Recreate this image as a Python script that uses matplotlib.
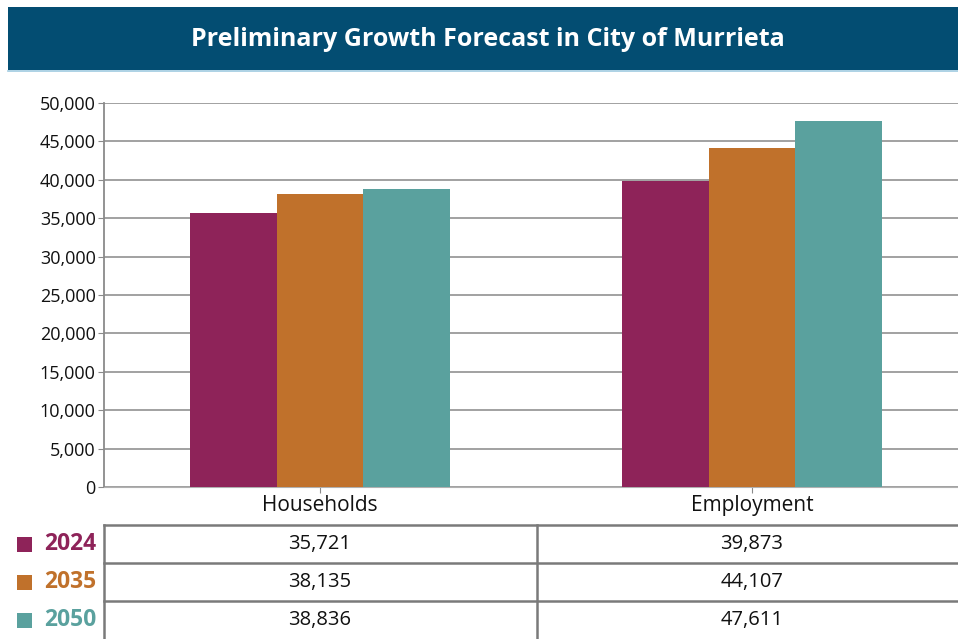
import numpy as np
import matplotlib.pyplot as plt
from matplotlib.patches import Rectangle
from matplotlib.lines import Line2D
from matplotlib.ticker import FuncFormatter

plt.rcParams['font.family'] = ['Open Sans', 'DejaVu Sans']

# data
categories = ['Households', 'Employment']
years = ['2024', '2035', '2050']
values = {
    '2024': [35721, 39873],
    '2035': [38135, 44107],
    '2050': [38836, 47611],
}
colors = {'2024': '#8e2359', '2035': '#c0712b', '2050': '#5aa19e'}

W, H = 958, 639
fig = plt.figure(figsize=(W / 100, H / 100), dpi=100)

def fx(px):
    return px / W

def fy(py):
    return 1 - py / H

# title band
fig.patches.append(Rectangle((fx(8), fy(70)), fx(950), 63 / H, transform=fig.transFigure,
                             facecolor='#034d72', edgecolor='none', zorder=0))
fig.add_artist(Line2D([fx(8), 1], [fy(71), fy(71)], transform=fig.transFigure,
                      color='#9fcbe0', lw=1.2))
fig.text(fx(488), fy(40), 'Preliminary Growth Forecast in City of Murrieta', color='white',
         fontsize=18, fontweight='bold', ha='center', va='center')

# chart
ax = fig.add_axes([fx(104), fy(487), fx(864), (487 - 103) / H])
x = np.arange(len(categories))
bw = 0.2
for i, y in enumerate(years):
    ax.bar(x + (i - 1) * bw, values[y], width=bw, color=colors[y], zorder=3)

ax.set_xlim(-0.5, 1.5)
ax.set_ylim(0, 50000)
ax.set_yticks(np.arange(0, 50001, 5000))
ax.yaxis.set_major_formatter(FuncFormatter(lambda v, p: f'{int(v):,}'))
ax.set_xticks(x)
ax.set_xticklabels(categories, fontsize=15, color='#111111')
ax.grid(axis='y', color='#9a9a9a', lw=1.3, zorder=0)
for s in ['top', 'right']:
    ax.spines[s].set_visible(False)
ax.spines['left'].set_color('#8a8a8a')
ax.spines['bottom'].set_color('#b0b0b0')
ax.spines['left'].set_linewidth(1.3)
ax.tick_params(axis='y', labelsize=13, colors='#8a8a8a', labelcolor='#111111', length=4, pad=2)
ax.tick_params(axis='x', length=4, colors='#8a8a8a', labelcolor='#111111', pad=2)

# data table below
row_tops = [525, 563, 601]
lc = '#7a7a7a'
for yt in row_tops:
    fig.add_artist(Line2D([fx(104), 1], [fy(yt), fy(yt)], transform=fig.transFigure, color=lc, lw=1.8))
for xv in [104, 537]:
    fig.add_artist(Line2D([fx(xv), fx(xv)], [fy(525), 0], transform=fig.transFigure, color=lc, lw=1.8))

for r, y in enumerate(years):
    yc = fy(row_tops[r] + 19)
    fig.patches.append(Rectangle((fx(17), yc - 7.5 / H), fx(15), 15 / H, transform=fig.transFigure,
                                 facecolor=colors[y], edgecolor='none'))
    fig.text(fx(44), yc, y, color=colors[y], fontsize=16.5, fontweight='bold', ha='left', va='center')
    for c in range(len(categories)):
        xc = ax.transData.transform((x[c], 0))[0] / fig.bbox.width
        fig.text(xc, yc, f'{values[y][c]:,}', fontsize=14.5, color='#111111', ha='center', va='center')

fig.savefig('out.png', dpi=100)
